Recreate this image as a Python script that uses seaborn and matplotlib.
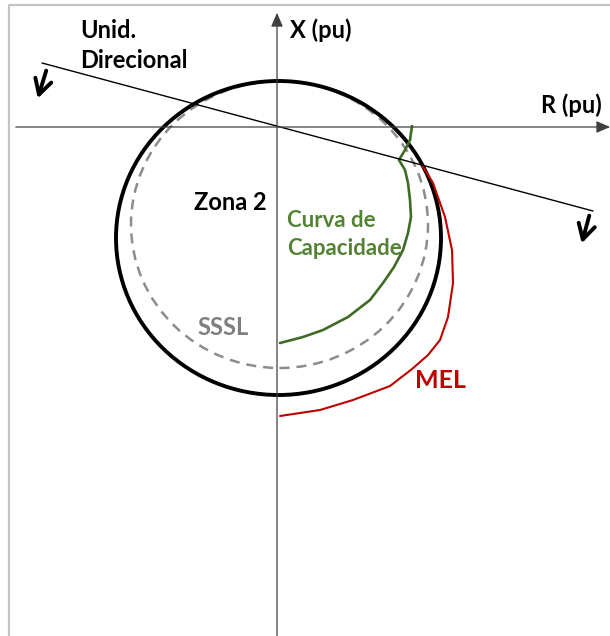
import numpy as np
import pandas as pd
import matplotlib.pyplot as plt
import seaborn as sns
from matplotlib.patches import Ellipse

# Curva de capacidade (pu)
cap_r = [1.35, 1.33, 1.28, 1.22, 1.28, 1.31, 1.33, 1.34, 1.31, 1.26, 1.17,
         1.06, 0.93, 0.71, 0.46, 0.26, 0.03]
cap_x = [0.01, -0.13, -0.23, -0.33, -0.43, -0.56, -0.73, -0.90, -1.06, -1.23, -1.40,
         -1.56, -1.73, -1.90, -2.03, -2.10, -2.16]

# MEL (pu)
mel_r = [1.45, 1.56, 1.68, 1.75, 1.76, 1.71, 1.63, 1.51, 1.35, 1.13, 0.76, 0.43, 0.03]
mel_x = [-0.38, -0.56, -0.90, -1.23, -1.56, -1.90, -2.13, -2.28, -2.42, -2.59, -2.73, -2.83, -2.89]

# Unidade direcional (reta pela origem)
dir_r = [-2.35, 3.16]
dir_x = [0.64, -0.84]

# Zona 2 e SSSL: centro (r, x), largura, altura
zona2 = dict(centro=(0.015, -1.11), largura=3.25, altura=3.14)
sssl = dict(centro=(0.025, -0.975), largura=2.97, altura=2.87)

sns.set_theme(style="white")
plt.rcParams['font.family'] = ['Lato', 'DejaVu Sans']

fig = plt.figure(figsize=(6.10, 6.36), dpi=100)
ax = fig.add_axes([0, 0, 1, 1])
ax.axis('off')

# moldura
ax.plot([-2.68, -2.68, 3.4], [-5.2, 1.22, 1.22], color='#c4c4c4', lw=1.6, clip_on=False)

# eixos R e X
seta_eixo = dict(arrowstyle='-|>,head_length=0.7,head_width=0.3', color='#404040', lw=0.9)
ax.annotate('', xy=(3.36, 0), xytext=(-2.64, 0), arrowprops=seta_eixo, annotation_clip=False)
ax.annotate('', xy=(0, 1.17), xytext=(0, -5.2), arrowprops=seta_eixo, annotation_clip=False)

# circulos
ax.add_patch(Ellipse(sssl['centro'], sssl['largura'], sssl['altura'], fill=False,
                     ec='#8c8c8c', lw=1.8, ls=(0, (4, 2.8))))
ax.add_patch(Ellipse(zona2['centro'], zona2['largura'], zona2['altura'], fill=False,
                     ec='black', lw=2.8))

df_cap = pd.DataFrame({'R': cap_r, 'X': cap_x})
df_mel = pd.DataFrame({'R': mel_r, 'X': mel_x})
df_dir = pd.DataFrame({'R': dir_r, 'X': dir_x})
sns.lineplot(data=df_cap, x='R', y='X', sort=False, estimator=None, color='#3f6b24', lw=1.9, ax=ax)
sns.lineplot(data=df_mel, x='R', y='X', sort=False, estimator=None, color='#c00000', lw=1.5, ax=ax)
sns.lineplot(data=df_dir, x='R', y='X', sort=False, estimator=None, color='black', lw=1.0, ax=ax)
for ln in ax.lines:
    ln.set_solid_joinstyle('round')
ax.set_xlim(-2.77, 3.33)
ax.set_ylim(-5.09, 1.27)

# setas da unidade direcional
for p0, p1 in [((-2.30, 0.59), (-2.40, 0.26)), ((3.13, -0.86), (3.04, -1.19))]:
    ax.annotate('', xy=p1, xytext=p0, annotation_clip=False,
                arrowprops=dict(arrowstyle='->,head_length=0.9,head_width=0.5',
                                color='black', lw=2.8))

fs = 17
ax.text(-1.97, 0.89, 'Unid.', fontsize=fs, fontweight='bold', color='black')
ax.text(-1.97, 0.59, 'Direcional', fontsize=fs, fontweight='bold', color='black')
ax.text(0.13, 0.89, 'X (pu)', fontsize=fs, fontweight='bold', color='black')
ax.text(2.64, 0.14, 'R (pu)', fontsize=fs, fontweight='bold', color='black')
ax.text(-0.83, -0.83, 'Zona 2', fontsize=fs, fontweight='bold', color='black')
ax.text(0.10, -1.00, 'Curva de', fontsize=fs - 1, fontweight='bold', color='#548235')
ax.text(0.10, -1.28, 'Capacidade', fontsize=fs - 1, fontweight='bold', color='#548235')
ax.text(-0.80, -2.08, 'SSSL', fontsize=fs, fontweight='bold', color='#7f7f7f')
ax.text(1.38, -2.61, 'MEL', fontsize=fs + 1, fontweight='bold', color='#c00000')

fig.savefig('out.png', dpi=100)
